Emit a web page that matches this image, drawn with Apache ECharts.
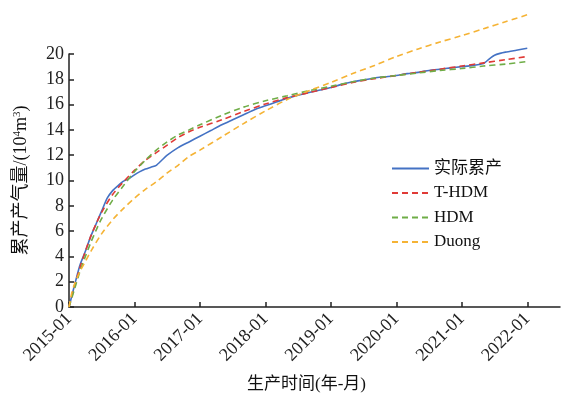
<!DOCTYPE html>
<html>
<head>
<meta charset="utf-8">
<script src="https://cdn.jsdelivr.net/npm/echarts@6/dist/echarts.min.js"></script>
<style>html,body{margin:0;padding:0;background:#fff;}#c{width:566px;height:395px;}</style>
</head>
<body>
<div id="c"></div>
<script>
// x values: months since 2015-01
var tickLabels = ['2015-01','2016-01','2017-01','2018-01','2019-01','2020-01','2021-01','2022-01'];
var seriesNames = ['实际累产','T-HDM','HDM','Duong'];

var actualMonths = [0,1,2,3,4,5,6,7,8,9,10,11,12,13,14,15,16,17,18,20,22,24,26,28,30,32,34,36,38,40,42,44,46,48,50,52,54,56,58,60,62,64,66,68,70,72,74,76,77,78,79,80,82,84];
var actualValues = [0,1.7,3.3,4.4,5.6,6.6,7.6,8.6,9.2,9.6,9.95,10.15,10.45,10.7,10.9,11.05,11.2,11.6,12.0,12.6,13.05,13.5,13.95,14.4,14.8,15.2,15.6,15.9,16.2,16.5,16.75,16.95,17.15,17.35,17.6,17.8,17.95,18.1,18.2,18.3,18.45,18.55,18.7,18.8,18.9,19.0,19.1,19.25,19.6,19.9,20.05,20.15,20.3,20.45];

var thdmMonths = [0,1,2,3,4,5,6,8,10,12,14,16,18,20,22,24,28,32,36,40,44,48,52,56,60,64,68,72,76,80,84];
var thdmValues = [0,1.6,3.1,4.4,5.6,6.6,7.5,8.9,9.9,10.8,11.6,12.2,12.8,13.4,13.85,14.2,14.8,15.45,16.05,16.55,16.95,17.35,17.75,18.05,18.3,18.55,18.8,19.05,19.3,19.55,19.8];

var hdmMonths = [0,1,2,3,4,5,6,8,10,12,14,16,18,20,22,24,28,32,36,40,44,48,52,56,60,64,68,72,76,80,84];
var hdmValues = [0,1.4,2.8,4.0,5.1,6.1,7.0,8.45,9.6,10.7,11.6,12.4,13.05,13.6,14.0,14.4,15.15,15.8,16.3,16.7,17.1,17.45,17.8,18.1,18.3,18.5,18.7,18.85,19.05,19.2,19.4];

var duongMonths = [0,0.5,1,2,3,4,6,8,10,12,14,16,18,20,22,24,28,32,36,40,44,48,52,56,60,64,68,72,76,80,84];
var duongValues = [0,1.1,1.8,2.8,3.6,4.4,5.8,6.9,7.8,8.6,9.3,9.9,10.6,11.2,11.9,12.4,13.45,14.5,15.5,16.4,17.1,17.75,18.45,19.1,19.8,20.4,20.95,21.45,22.0,22.55,23.1];

function pairs(xs, ys){ return xs.map(function(x,i){ return [x, ys[i]]; }); }

var colors = ['#4472C4','#E03A36','#6FAD47','#F5B335'];
var serif = "'Liberation Serif','Noto Sans CJK SC'";
var tickVals = tickLabels.map(function(_,i){ return i*12; });

var chart = echarts.init(document.getElementById('c'));
chart.setOption({
  animation: false,
  color: colors,
  grid: {left: 69, right: 6, top: 54, bottom: 88, containLabel: false, outerBoundsMode: 'none'},
  legend: {
    orient: 'vertical', left: 386, top: 155,
    itemWidth: 37, itemHeight: 14, itemGap: 7.5,
    itemStyle: {opacity: 0},
    textStyle: {fontFamily: serif, fontSize: 17, color: '#111'},
    data: seriesNames
  },
  xAxis: {
    type: 'value', min: 0, max: 90,
    name: '生产时间(年-月)', nameLocation: 'middle', nameGap: 69,
    nameTextStyle: {fontFamily: serif, fontSize: 17, color: '#111', padding: [0, 16, 0, 0]},
    axisLine: {lineStyle: {color: '#222', width: 1.5}},
    axisTick: {inside: true, length: 5, customValues: tickVals, lineStyle: {color: '#222', width: 1.5}},
    axisLabel: {customValues: tickVals, rotate: 45, margin: 9, fontFamily: serif, fontSize: 18, color: '#222',
      formatter: function(v){ return tickLabels[Math.round(v/12)] || ''; }},
    splitLine: {show: false}
  },
  yAxis: {
    type: 'value', min: 0, max: 20, interval: 2,
    name: '{a|累产产气量/(10}{s|4}{a|m}{s|3}{a|)}', nameLocation: 'middle', nameGap: 38, nameRotate: 90,
    nameTextStyle: {rich: {
      a: {fontFamily: serif, fontSize: 18, color: '#111'},
      s: {fontFamily: serif, fontSize: 11, color: '#111', verticalAlign: 'top', padding: [0,0,8,0]}
    }},
    axisLine: {show: true, lineStyle: {color: '#222', width: 1.5}},
    axisTick: {show: true, inside: true, length: 5, lineStyle: {color: '#222', width: 1.5}},
    axisLabel: {margin: 5, fontFamily: serif, fontSize: 18, color: '#222'},
    splitLine: {show: false}
  },
  series: [
    {name: seriesNames[0], type: 'line', data: pairs(actualMonths, actualValues), symbol: 'none', smooth: 0.2, clip: false,
      lineStyle: {width: 1.6, color: colors[0]}},
    {name: seriesNames[1], type: 'line', data: pairs(thdmMonths, thdmValues), symbol: 'none', smooth: 0.3, clip: false,
      lineStyle: {width: 1.6, color: colors[1], type: [6,4]}},
    {name: seriesNames[2], type: 'line', data: pairs(hdmMonths, hdmValues), symbol: 'none', smooth: 0.3, clip: false,
      lineStyle: {width: 1.6, color: colors[2], type: [6,4]}},
    {name: seriesNames[3], type: 'line', data: pairs(duongMonths, duongValues), symbol: 'none', smooth: 0.3, clip: false,
      lineStyle: {width: 1.6, color: colors[3], type: [6,4]}}
  ]
});
</script>
</body>
</html>
